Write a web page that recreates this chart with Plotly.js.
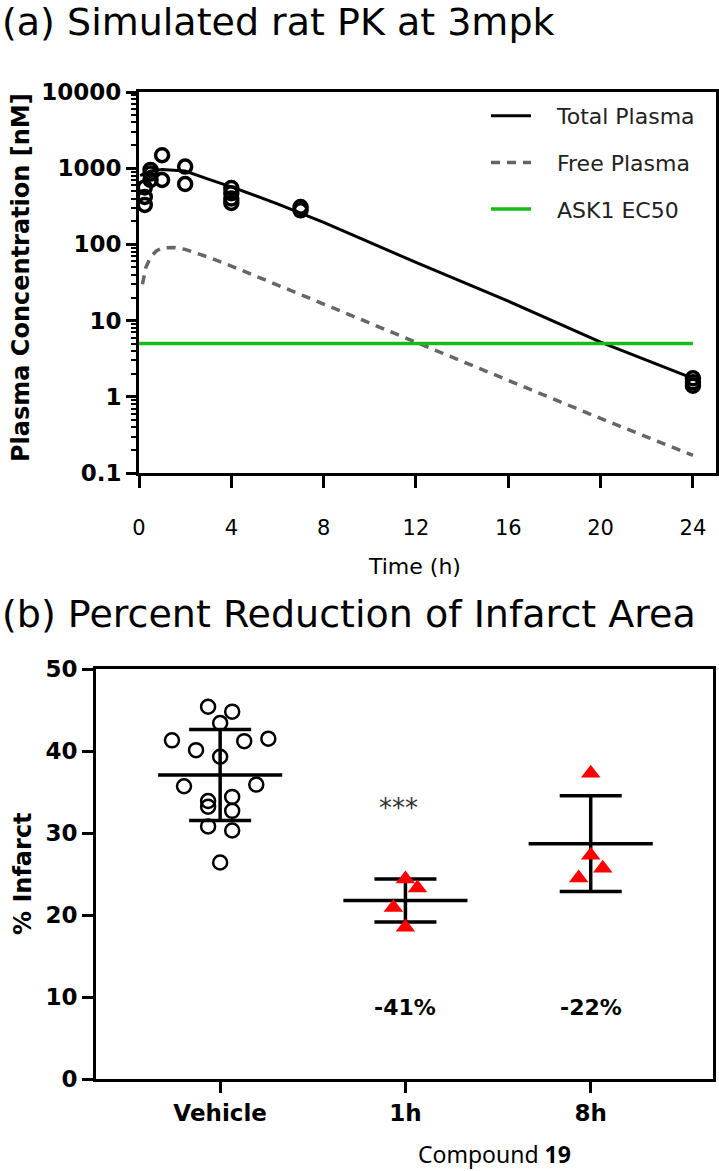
<!DOCTYPE html>
<html>
<head>
<meta charset="utf-8">
<script src="https://cdn.plot.ly/plotly-3.0.1.min.js"></script>
<style>
body { margin: 0; background: #fff; }
#chart { width: 719px; height: 1171px; }
</style>
</head>
<body>
<div id="chart"></div>
<script>
// (a) observed rat plasma levels
let obs_time = [0.25, 0.25, 0.25, 0.5, 0.5, 0.5, 1, 1, 2, 2, 4, 4, 4, 4, 7, 7, 24, 24, 24]
let obs_conc = [330, 420, 560, 700, 850, 950, 1480, 700, 1050, 620, 550, 470, 400, 350, 310, 280, 1.75, 1.55, 1.4]

// (a) simulated curves
let sim_time = [0.05, 0.25, 0.5, 1, 2, 3, 4, 6, 8, 12, 16, 20, 24]
let total_conc = [800, 850, 920, 960, 920, 720, 570, 340, 195, 58, 18, 5.2, 1.75]
let free_time = [0.15, 0.3, 0.5, 0.75, 1, 1.5, 2, 3, 4, 6, 8, 12, 16, 20, 24]
let free_conc = [30, 50, 68, 82, 90, 91, 86, 68, 52, 29, 16.5, 5.2, 1.65, 0.52, 0.17]
let ec50_time = [0, 24]
let ec50 = 5

let pk_ticks = [0.1, 1, 10, 100, 1000, 10000]
let pk_tick_text = ["0.1", "1", "10", "100", "1000", "10000"]
let time_ticks = [0, 4, 8, 12, 16, 20, 24]

// (b) % infarct per animal
let groups = ["Vehicle", "1h", "8h"]
let vehicle = [45.4, 44.8, 43.4, 41.3, 40.1, 39.3, 41.2, 41.5, 35.7, 33.9, 34.4, 35.9, 33.2, 32.7, 30.8, 30.3, 26.4]
let dose_1h = [24.4, 20.9, 23.3, 18.5]
let dose_8h = [37.3, 27.3, 24.5, 25.7]
let reduction_text = ["", "-41%", "-22%"]

const W = 719, H = 1171
function px(x) { return x / W }
function py(y) { return 1 - y / H }

const FONT = "DejaVu Sans, Liberation Sans, Arial, sans-serif"
const PAD = "\u00a0\u00a0\u00a0"

function mean(a) {
	return a.reduce((s, v) => s + v, 0) / a.length
}

function sd(a) {
	let m = mean(a)
	return Math.sqrt(a.reduce((s, v) => s + (v - m) * (v - m), 0) / (a.length - 1))
}

// Prism-like scatter: points binned in rows, each row spread around the centre
function swarm_offsets(vals, bin_h, step) {
	let rows = {}
	vals.forEach((v, i) => {
		let k = Math.floor(v / bin_h)
		if (!rows[k]) rows[k] = []
		rows[k].push(i)
	})
	let off = new Array(vals.length).fill(0)
	for (let k in rows) {
		let idx = rows[k]
		idx.forEach((i, j) => { off[i] = (j - (idx.length - 1) / 2) * step })
	}
	return off
}

let traces = []

// ---- panel (a)
traces.push({
	x: sim_time, y: total_conc, name: PAD + "Total Plasma", legendgroup: "a",
	mode: "lines", line: {color: "black", width: 3},
	xaxis: "x", yaxis: "y"
})
traces.push({
	x: free_time, y: free_conc, name: PAD + "Free Plasma", legendgroup: "b",
	mode: "lines", line: {color: "#666666", width: 3.5, dash: "9px,7px"},
	xaxis: "x", yaxis: "y"
})
traces.push({
	x: ec50_time, y: ec50_time.map(() => ec50), name: PAD + "ASK1 EC50", legendgroup: "c",
	mode: "lines", line: {color: "#17bb17", width: 3.5},
	xaxis: "x", yaxis: "y"
})
traces.push({
	x: obs_time, y: obs_conc, mode: "markers", showlegend: false,
	marker: {symbol: "circle-open", size: 13, color: "black", line: {width: 3.5}},
	xaxis: "x", yaxis: "y"
})

// ---- panel (b)
let sets = [vehicle, dose_1h, dose_8h]
let means = sets.map(mean)
let sds = sets.map(sd)

let bar_x = [], bar_y = []
means.forEach((m, g) => {
	bar_x.push(g - 0.335, g + 0.335, null)
	bar_y.push(m, m, null)
})
traces.push({
	x: bar_x, y: bar_y, mode: "lines", showlegend: false,
	line: {color: "black", width: 3.5},
	xaxis: "x2", yaxis: "y2"
})
traces.push({
	x: [0, 1, 2], y: means, mode: "markers", showlegend: false,
	marker: {size: 1, opacity: 0},
	error_y: {type: "data", array: sds, visible: true, width: 31, thickness: 3.5, color: "black"},
	xaxis: "x2", yaxis: "y2"
})

sets.forEach((vals, g) => {
	let off = swarm_offsets(vals, 2.6, 0.13)
	let sym = g == 0
		? {symbol: "circle-open", size: 14, color: "black", line: {width: 2.5}}
		: {symbol: "triangle-up", size: 17, color: "#ff0000", line: {width: 0}}
	traces.push({
		x: vals.map((v, i) => g + off[i]), y: vals, mode: "markers", showlegend: false,
		marker: sym, xaxis: "x2", yaxis: "y2"
	})
})

let axis_common = {
	showline: true, linecolor: "black", linewidth: 3, mirror: true,
	ticks: "outside", tickcolor: "black", tickwidth: 3,
	showgrid: false, zeroline: false
}

// paper-placed label, centred on (x, y) in pixels
function label(text, x, y, font, extra) {
	return Object.assign({
		text: text, xref: "paper", yref: "paper", x: px(x), y: py(y),
		xanchor: "center", yanchor: "middle", showarrow: false, font: font
	}, extra || {})
}

let layout = {
	width: W, height: H,
	margin: {t: 0, b: 0, l: 0, r: 0},
	paper_bgcolor: "white", plot_bgcolor: "white",
	font: {family: FONT, color: "black"},
	showlegend: true,
	legend: {
		x: px(486), y: py(95), xanchor: "left", yanchor: "top",
		bgcolor: "rgba(0,0,0,0)", borderwidth: 0,
		font: {family: FONT, size: 22, color: "#222"},
		itemwidth: 40, tracegroupgap: 15, traceorder: "grouped"
	},
	xaxis: Object.assign({}, axis_common, {
		domain: [px(139), px(716)], anchor: "y",
		range: [0, 25], tickmode: "array", tickvals: time_ticks,
		ticklen: 12, ticklabelstandoff: 22,
		tickfont: {family: FONT, size: 21}
	}),
	yaxis: Object.assign({}, axis_common, {
		domain: [py(473), py(92)], anchor: "x",
		type: "log", range: [-1, 4],
		tickmode: "array", tickvals: pk_ticks, ticktext: pk_tick_text,
		ticklen: 10,
		minor: {ticks: "outside", ticklen: 5, tickwidth: 2, tickcolor: "black", dtick: "D1", showgrid: false},
		tickfont: {family: FONT, size: 23, weight: "bold"}
	}),
	xaxis2: Object.assign({}, axis_common, {
		domain: [px(96), px(713)], anchor: "y2",
		range: [-0.67, 2.66], tickmode: "array", tickvals: [0, 1, 2], ticktext: groups,
		ticklen: 11,
		tickfont: {family: FONT, size: 23, weight: "bold"}
	}),
	yaxis2: Object.assign({}, axis_common, {
		domain: [py(1079), py(669)], anchor: "x2",
		range: [0, 50], dtick: 10,
		ticklen: 11,
		tickfont: {family: FONT, size: 23, weight: "bold"}
	}),
	annotations: [
		label("(a) Simulated rat PK at 3mpk", 0, 22, {family: FONT, size: 38}, {xanchor: "left"}),
		label("(b) Percent Reduction of Infarct Area", 0, 614, {family: FONT, size: 38}, {xanchor: "left"}),
		label("Plasma Concentration [nM]", 21, 278, {family: FONT, size: 24, weight: "bold"}, {textangle: -90}),
		label("Time (h)", 415, 566, {family: FONT, size: 22}),
		label("% Infarct", 23, 874, {family: FONT, size: 24, weight: "bold"}, {textangle: -90}),
		label("Compound <b>19</b>", 494, 1154, {family: "Noto Sans, Open Sans, sans-serif", size: 23}),
		{text: "***", xref: "x2", yref: "y2", x: 0.96, y: 33, xanchor: "center", yanchor: "middle",
			showarrow: false, font: {family: FONT, size: 26, color: "#333"}}
	]
}

// reduction labels under each treated group
reduction_text.forEach((t, g) => {
	if (t == "") return
	layout.annotations.push({
		text: t, xref: "x2", yref: "y2", x: g, y: 8.7, xanchor: "center", yanchor: "middle",
		showarrow: false, font: {family: FONT, size: 22, weight: "bold"}
	})
})

Plotly.newPlot("chart", traces, layout, {displayModeBar: false, staticPlot: true})
</script>
</body>
</html>
